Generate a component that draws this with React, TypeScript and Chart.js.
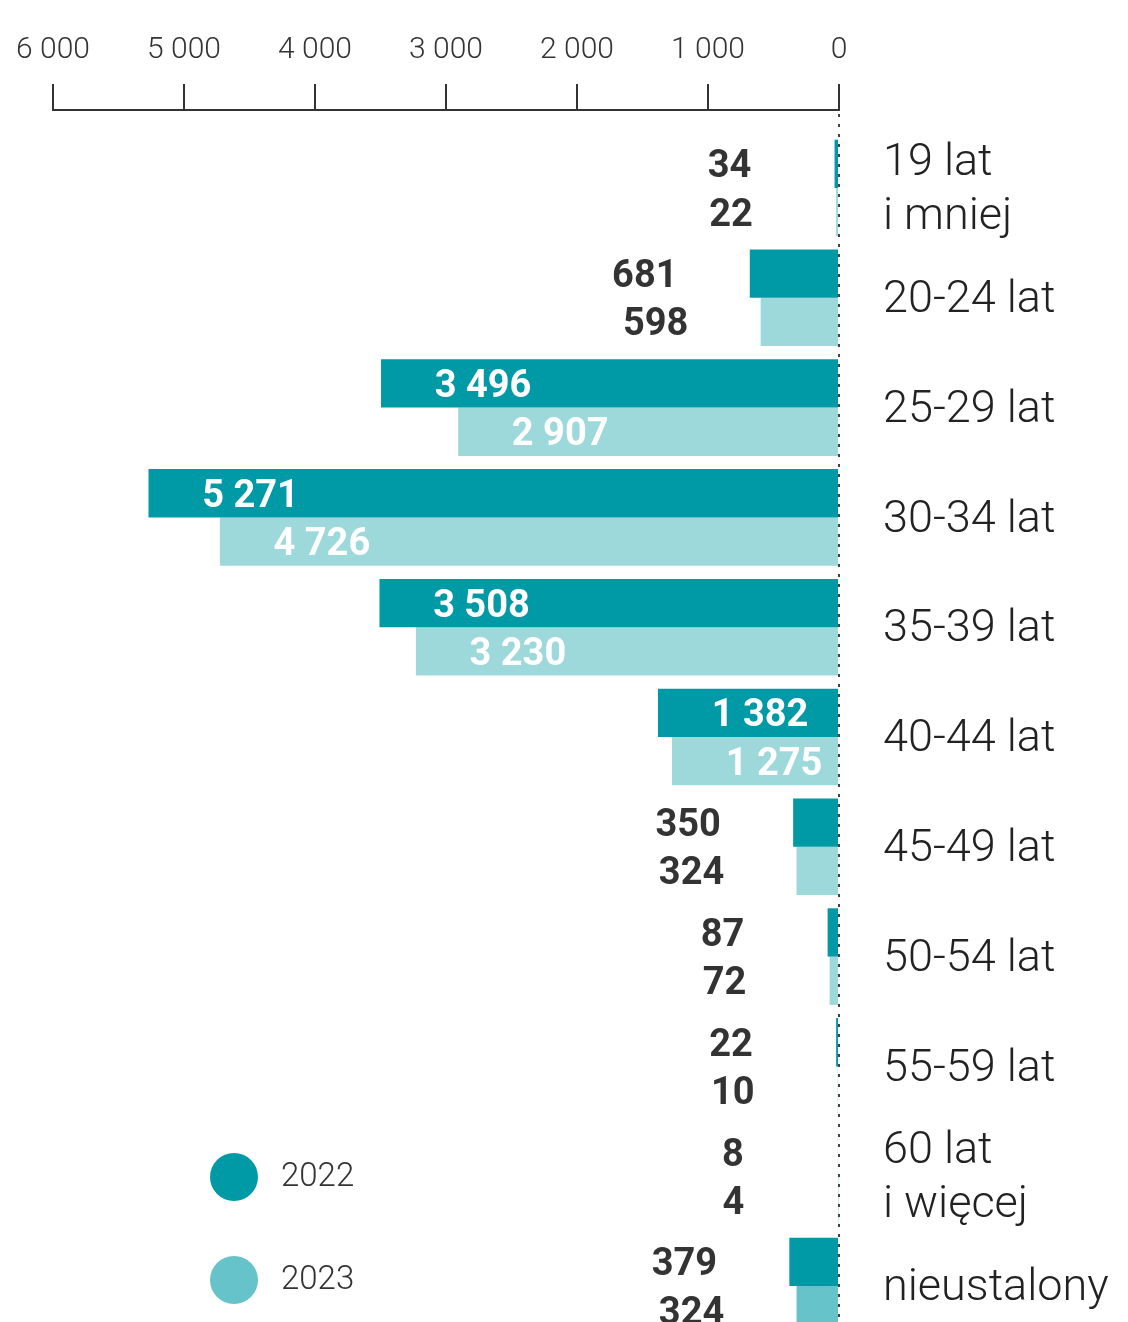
import React, { useEffect, useRef } from "react";
import { Chart, registerables } from "chart.js";

Chart.register(...registerables);

const categories: (string | string[])[] = [
  ["19 lat", "i mniej"],
  "20-24 lat",
  "25-29 lat",
  "30-34 lat",
  "35-39 lat",
  "40-44 lat",
  "45-49 lat",
  "50-54 lat",
  "55-59 lat",
  ["60 lat", "i więcej"],
  "nieustalony",
];

const values2022 = [34, 681, 3496, 5271, 3508, 1382, 350, 87, 22, 8, 379];
const values2023 = [22, 598, 2907, 4726, 3230, 1275, 324, 72, 10, 4, 324];

const seriesNames = ["2022", "2023"];
const xTicks = [0, 1000, 2000, 3000, 4000, 5000, 6000];

const DARK = "#0099A6";
const LIGHT = "#9DD8DB";
const MID = "#66C3CA";

const fmt = (v: number) => String(v).replace(/\B(?=(\d{3})+(?!\d))/g, " ");

const valueLabels = {
  id: "valueLabels",
  afterDatasetsDraw(chart: any) {
    const ctx = chart.ctx;
    const area = chart.chartArea;
    const x0 = chart.scales.x.getPixelForValue(0);
    ctx.save();
    // dotted zero line
    ctx.strokeStyle = "#444444";
    ctx.lineWidth = 2;
    ctx.setLineDash([3, 7]);
    ctx.beginPath();
    ctx.moveTo(x0, area.top + 4);
    ctx.lineTo(x0, area.bottom);
    ctx.stroke();
    ctx.setLineDash([]);

    ctx.font = "bold 38px Roboto";
    ctx.textAlign = "center";
    ctx.textBaseline = "middle";
    chart.data.datasets.forEach((ds: any, di: number) => {
      const meta = chart.getDatasetMeta(di);
      meta.data.forEach((el: any, i: number) => {
        const v = ds.data[i].x;
        const inside = v >= 1000;
        ctx.fillStyle = inside ? "#ffffff" : "#333333";
        const cx = inside ? el.x + 102 : el.x - 105;
        ctx.fillText(fmt(v), cx, el.y + 4);
      });
    });
    ctx.restore();
  },
};

const legendPlugin = {
  id: "customLegend",
  afterDraw(chart: any) {
    const ctx = chart.ctx;
    ctx.save();
    const items = [
      { c: DARK, y: 1177 },
      { c: MID, y: 1280 },
    ];
    items.forEach((it, i) => {
      ctx.beginPath();
      ctx.fillStyle = it.c;
      ctx.arc(234, it.y, 24, 0, Math.PI * 2);
      ctx.fill();
      ctx.fillStyle = "#333333";
      ctx.font = "300 33px Roboto";
      ctx.textAlign = "left";
      ctx.textBaseline = "middle";
      ctx.fillText(seriesNames[i], 281, it.y + 1);
    });
    ctx.restore();
  },
};

export default function App() {
  const ref = useRef<HTMLCanvasElement | null>(null);

  useEffect(() => {
    if (!ref.current) return;
    const lightColors = values2023.map((_, i) =>
      i === values2023.length - 1 ? MID : LIGHT
    );
    const chart = new Chart(ref.current, {
      type: "bar",
      data: {
        datasets: [
          {
            label: seriesNames[0],
            data: values2022.map((v, i) => ({ x: v, y: i })),
            backgroundColor: DARK,
            borderWidth: 0,
            categoryPercentage: 0.88,
            barPercentage: 1,
          },
          {
            label: seriesNames[1],
            data: values2023.map((v, i) => ({ x: v, y: i })),
            backgroundColor: lightColors,
            borderWidth: 0,
            categoryPercentage: 0.88,
            barPercentage: 1,
          },
        ],
      },
      options: {
        indexAxis: "y",
        responsive: false,
        animation: false,
        devicePixelRatio: 1,
        layout: { padding: { left: 53, right: 0, top: 0, bottom: 0 } },
        plugins: {
          legend: { display: false },
          tooltip: { enabled: false },
        },
        scales: {
          x: {
            type: "linear",
            position: "top",
            reverse: true,
            min: 0,
            max: 6000,
            offset: false,
            afterBuildTicks: (s: any) => {
              s.ticks = xTicks.map((v) => ({ value: v }));
            },
            afterFit: (s: any) => {
              s.height = 110;
            },
            ticks: {
              callback: (v: any) => fmt(Number(v)),
              font: { family: "Roboto", size: 30, weight: "300" },
              color: "#333333",
              padding: 16,
              maxRotation: 0,
              autoSkip: false,
            },
            grid: {
              drawOnChartArea: false,
              drawTicks: true,
              tickLength: 26,
              color: "#333333",
              lineWidth: 2,
            },
            border: { display: true, color: "#333333", width: 2 },
          },
          y: {
            type: "linear",
            position: "right",
            reverse: true,
            bounds: "data",
            offset: false,
            min: -0.7104,
            max: 10.328,
            afterBuildTicks: (s: any) => {
              s.ticks = categories.map((_, i) => ({ value: i }));
            },
            afterFit: (s: any) => {
              s.width = 1128 - 839;
              s.paddingTop = 0;
              s.paddingBottom = 0;
            },
            ticks: {
              callback: (v: any) => categories[Math.round(Number(v))] ?? "",
              font: { family: "Roboto", size: 45, weight: "300", lineHeight: 1.2 },
              color: "#222222",
              padding: 44,
              labelOffset: 3,
              autoSkip: false,
            },
            grid: { display: false, drawTicks: false, drawOnChartArea: false, offset: false },
            border: { display: false },
          },
        },
      },
      plugins: [valueLabels, legendPlugin],
    } as any);
    return () => chart.destroy();
  }, []);

  return (
    <div
      style={{
        position: "absolute",
        left: 0,
        top: 0,
        width: 1128,
        height: 1322,
        overflow: "hidden",
        background: "#ffffff",
      }}
    >
      <canvas ref={ref} width={1128} height={1322} />
    </div>
  );
}
